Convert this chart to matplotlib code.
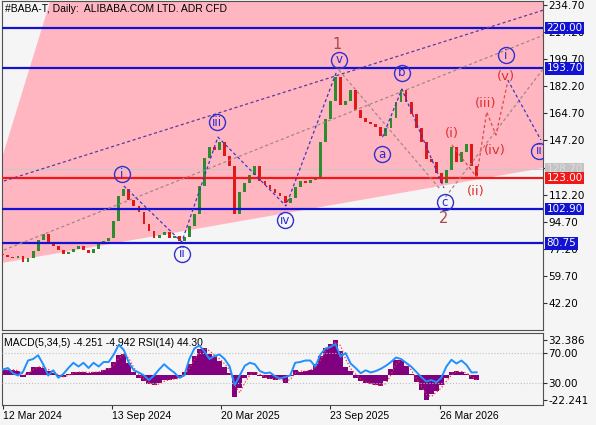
import numpy as np
import pandas as pd
import matplotlib
matplotlib.use("Agg")
import matplotlib.pyplot as plt
import matplotlib.transforms as mtransforms
from matplotlib.patches import Polygon

# closes, one every 6 daily bars
close = [73, 72, 71.5, 72.5, 69, 71, 76, 83, 87, 81,
         79, 76.5, 74, 75, 77, 79, 76.5, 74.5, 77, 81,
         82.5, 84, 95, 111, 116, 109, 105, 101, 93, 88.5,
         84.5, 86, 88, 84, 85.5, 82.5, 85, 92, 100, 118,
         136, 143, 141, 146, 137, 131, 100, 114, 120, 125,
         131, 121, 118.5, 116, 113.5, 111, 107, 110, 117, 121,
         120, 121.5, 123, 146, 161, 173, 188, 170, 173, 180,
         167, 162, 159, 158, 156, 150, 155, 162, 172, 180,
         172, 164, 155, 146, 135, 133, 126, 120, 128, 143,
         133, 140, 145, 131, 124.5]
first_open = 74.0

rsi = [48, 50, 43, 40, 45, 60, 62, 67, 55, 40,
       47, 37, 42, 50, 57, 52, 57, 50, 57, 52,
       58, 58, 68, 81, 74, 57, 47, 44, 40, 34,
       40, 48, 55, 49, 44, 37, 40, 62, 76, 80,
       72, 62, 66, 68, 62, 52, 27, 40, 53, 57,
       55, 46, 43, 44, 39, 36, 38, 40, 57, 58,
       60, 60, 52, 68, 76, 78, 82, 65, 70, 56,
       50, 43, 47, 44, 46, 49, 53, 58, 64, 62,
       57, 52, 45, 38, 32, 34, 31, 37, 52, 61,
       56, 60, 54, 44, 44.3]

macd = [5, 5, 5, 4, -1.5, 3, 7.5, 8, 7, 4,
        2, -1, -1.5, 1, 3, 3, 3, 2.5, 3, 3.5,
        5, 7, 12, 19, 20, 11, 3, -2, -5, -8,
        -9, -7, -4, -4, -3, -2.5, 3, 10, 18, 24,
        25, 20, 17, 13, 8, 2, -20, -12, -2, 3,
        3, -1, -2, -3, -4, -3, -7, -1, 5, 3,
        4.4, 5, 10, 18, 25, 29, 32.4, 22, 8, 4.4,
        -2, -5, -7, -8, -9, -10, -5, 6, 14, 14,
        9, 1, -6, -13, -22.2, -17, -14, -9, -2, 3,
        4, 3, 1, -3.6, -4.25]

date_labels = ["12 Mar 2024", "13 Sep 2024", "20 Mar 2025", "23 Sep 2025", "26 Mar 2026"]
date_bars = [0, 130, 260, 390, 520]

price_ticks = [234.70, 217.20, 199.70, 182.20, 164.70, 147.20,
               129.70, 112.20, 94.70, 77.20, 59.70, 42.20]
blue_levels = [220.00, 193.70, 102.90, 80.75]
red_level = 123.00
bid_level = 128.70

# drawing objects (bar, price)
zone = [(-41.7, 64.2), (92, 300), (831, 300), (831, 147.3)]
wave_main = [(144, 117.8), (213, 81.6), (256, 149.4), (337, 104.9), (397.6, 192.1)]
wave_abc = [(452, 149.4), (475, 180.4), (525, 116.5)]
wave_next = [(601, 186.3), (640.5, 147.5)]
wave_minor = [(534.5, 144.3), (564, 123.6), (576, 165.6), (587, 150.7), (601, 185.0)]
channel_top = [(1.2, 121.0), (644, 231.5)]
channel_low = [(1.2, 76.4), (644, 215.3)]
grey_a = [(400, 192.7), (521.4, 115.2)]
grey_b = [(527, 110.7), (644, 194.0)]

circled = [("i", 141.7, 125.5), ("ii", 213, 73.9), ("iii", 254.8, 159.1),
           ("iv", 335.7, 95.8), ("v", 400, 199.2), ("a", 451, 138.4),
           ("b", 475, 190.8), ("c", 526, 107.4), ("i", 599, 202.4),
           ("ii", 638, 140.4)]
minor_labels = [("(i)", 534.5, 152), ("(ii)", 563, 114.5), ("(iii)", 575, 171.4),
                ("(iv)", 585.7, 140.4), ("(v)", 598.8, 188.8)]
big_labels = [("1", 397.6, 209.5), ("2", 525, 96.5)]

step = 6
bars = np.arange(len(close)) * step
opens = [first_open] + close[:-1]

bg = "#f5f5f5"
txt_font = ["Liberation Sans", "DejaVu Sans"]
fig = plt.figure(figsize=(5.96, 4.25), dpi=100, facecolor=bg)
ax = fig.add_axes([2 / 596, 95 / 425, 541 / 596, 329 / 425], facecolor=bg)
axm = fig.add_axes([2 / 596, 20 / 425, 541 / 596, 72 / 425], facecolor=bg)

ax.set_xlim(-1, 643)
ax.set_ylim(24.75, 237.3)

ax.add_patch(Polygon(zone, closed=True, fc="#ffb6c1", ec="none", zorder=0))

# candles
body_lo = np.minimum(opens, close)
body_h = np.abs(np.array(close) - np.array(opens))
cols = ["#2e8b2e" if c >= o else "#e01818" for o, c in zip(opens, close)]
ax.bar(bars, np.maximum(body_h, 0.6), bottom=body_lo, width=3.4, color=cols, zorder=3)

ax.axhline(bid_level, color="#c8c8c8", lw=0.8, zorder=2)
for lv in blue_levels:
    ax.axhline(lv, color="#1212d2", lw=1.6, zorder=4)
ax.axhline(red_level, color="#f01818", lw=1.6, zorder=4)

def seg(pts, **kw):
    xs, ys = zip(*pts)
    ax.plot(xs, ys, zorder=4, **kw)

seg(channel_top, color="#5a3c9c", lw=0.9, dashes=(2.5, 2))
seg(channel_low, color="#a08888", lw=0.9, dashes=(2.5, 2))
seg(grey_a, color="#a08888", lw=0.9, dashes=(2.5, 2))
seg(grey_b, color="#a08888", lw=0.9, dashes=(2.5, 2))
seg(wave_main, color="#3a3ac0", lw=0.9, dashes=(2.5, 2))
seg(wave_abc, color="#3a3ac0", lw=0.9, dashes=(2.5, 2))
seg(wave_next, color="#3a3ac0", lw=0.9, dashes=(2.5, 2))
seg(wave_minor, color="#e04848", lw=0.9, dashes=(2.5, 2))

for t, x, y in circled:
    ax.plot(x, y, "o", ms=11.5, mfc="none", mec="#3030d0", mew=1.0, zorder=6)
    ax.text(x, y, t, color="#2828d0", fontsize=8.5, ha="center", va="center", zorder=6)
for t, x, y in minor_labels:
    ax.text(x, y, t, color="#e03030", fontsize=9.5, ha="center", va="center", zorder=6)
for t, x, y in big_labels:
    ax.text(x, y, t, color="#a84848", fontsize=10.5, ha="center", va="center", zorder=6)

ax.text(3 / 541, 0.992, "#BABA-T, Daily:  ALIBABA.COM LTD. ADR CFD", transform=ax.transAxes,
        fontsize=7.5, family=txt_font, ha="left", va="top", zorder=7)

ax.set_xticks([])
ax.yaxis.tick_right()
ax.set_yticks(price_ticks)
ax.set_yticklabels(["%.2f" % v for v in price_ticks])
ax.tick_params(axis="y", labelsize=7.5, length=3, pad=1, direction="out", color="#303030")
for s in ax.spines.values():
    s.set_color("#505050")
    s.set_linewidth(0.8)

trans = mtransforms.blended_transform_factory(ax.transAxes, ax.transData)
def level_box(val, fc, tc):
    ax.text(1.0065, val, "%.2f" % val, transform=trans, fontsize=7.5, color=tc,
            ha="left", va="center", clip_on=False, zorder=10,
            bbox=dict(boxstyle="square,pad=0.12", fc=fc, ec="none"))

level_box(bid_level, "#c4c4c4", "#dcdcdc")
for lv in blue_levels:
    level_box(lv, "#1212d2", "white")
level_box(red_level, "#f01818", "white")

# indicator window: MACD histogram + signal, RSI on a twin scale
signal = pd.Series(macd).rolling(2, min_periods=1).mean()
axm.set_xlim(-1, 643)
axm.set_ylim(-27.2, 38.8)
axm.bar(bars, macd, width=step, color="#800080", zorder=2)
axm.plot(bars, signal, color="#ff3030", lw=0.9, ls=":", zorder=3)

axr = axm.twinx()
axr.set_ylim(0.67, 96.7)
axr.axhline(70, color="#c0c0c0", lw=0.8, ls=":", zorder=1)
axr.axhline(30, color="#c0c0c0", lw=0.8, ls=":", zorder=1)
axr.plot(bars, rsi, color="#1e90ff", lw=1.4, zorder=4)
axr.set_yticks([70, 30])
axr.set_yticklabels(["70.00", "30.00"])
axr.tick_params(axis="y", labelsize=7.5, length=3, pad=1, color="#303030")
for s in axr.spines.values():
    s.set_visible(False)

# twinx moves the host ticks to the left, put them back on the right
axm.yaxis.tick_right()
axm.set_yticks([32.386, -22.241])
axm.set_yticklabels(["32.386", "-22.241"])
axm.tick_params(axis="y", labelsize=7.5, length=3, pad=1, color="#303030")
axm.set_xticks(date_bars)
axm.set_xticklabels(date_labels, ha="left", family=txt_font)
axm.tick_params(axis="x", labelsize=7.5, length=3, pad=1, color="#303030")
for s in axm.spines.values():
    s.set_color("#505050")
    s.set_linewidth(0.8)

axm.text(2 / 541, 0.86, "MACD(5,34,5) -4.251 -4.942 RSI(14) 44.30", transform=axm.transAxes,
         fontsize=7.5, family=txt_font, ha="left", va="center", zorder=7)

fig.savefig("out.png", dpi=100, facecolor=bg)
